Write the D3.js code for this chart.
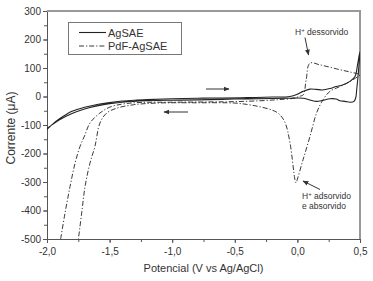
<!DOCTYPE html>
<html>
<head>
<meta charset="utf-8">
<script src="https://cdn.jsdelivr.net/npm/d3@7"></script>
<style>
  body { margin: 0; background: #fff; }
  svg { display: block; font-family: "Liberation Sans", Arial, sans-serif; }
  .axis text { font-size: 10px; fill: #333; }
  .axis path, .axis line { stroke: #555; }
  .axis-title { font-size: 11px; fill: #333; }
  .legend-text { font-size: 11px; fill: #333; }
  .note { font-size: 8.5px; fill: #333; }
</style>
</head>
<body>
<svg id="chart"></svg>
<script>
// AgSAE: sweep from -2.0 V up to 0.5 V and back
const agsaeV = [-2.0, -1.95, -1.9, -1.85, -1.8, -1.7, -1.6, -1.5, -1.4, -1.3, -1.2, -1.0, -0.8, -0.6, -0.4, -0.2, -0.06,
  0.0, 0.045, 0.1, 0.15, 0.2, 0.26, 0.31, 0.36, 0.42, 0.46, 0.48, 0.49, 0.5,
  0.49, 0.475, 0.465, 0.45, 0.42, 0.38, 0.34, 0.31, 0.26, 0.2, 0.154, 0.1, 0.045, -0.06, -0.2, -0.5, -0.8, -1.0,
  -1.2, -1.4, -1.5, -1.6, -1.7, -1.8, -1.9, -2.0];
const agsaeI = [-115, -95, -78, -64, -52, -38, -28, -21, -16, -13, -11, -8, -6, -5, -4, -2, 0,
  8, 18, 26, 25, 23, 28, 35, 40, 53, 70, 110, 136, 158,
  100, 30, -6, -18, -20, -17, -15, -9, -8, -14, -17, -12, -6, -6, -7, -9, -12, -13,
  -15, -20, -25, -33, -44, -60, -82, -112];

// PdF-AgSAE: forward branch, H+ desorption peak, reverse branch with adsorption peak
const pdfV = [-1.891, -1.856, -1.816, -1.776, -1.736, -1.697, -1.657, -1.577, -1.497, -1.39, -1.257, -1.0, -0.7, -0.5,
  -0.3, -0.15, -0.03, 0.02, 0.047, 0.07, 0.1, 0.18, 0.34, 0.42, 0.5,
  0.484, 0.42, 0.34, 0.26, 0.204, 0.154, 0.1, 0.045, -0.006, -0.011, -0.019, -0.059, -0.1, -0.15, -0.2, -0.3, -0.4,
  -0.5, -0.8, -1.124, -1.31, -1.443, -1.523, -1.577, -1.617, -1.657, -1.696, -1.723, -1.75];
const pdfI = [-500, -409, -316, -234, -175, -135, -93, -58, -37, -26, -21, -20, -19, -18,
  -15, -11, -6, 1, 6, 58, 117, 111, 94, 86, 76,
  70, 53, 35, 18, -12, -57, -141, -222, -298, -303, -293, -163, -90, -60, -48, -36, -28,
  -23, -22, -23, -29, -41, -58, -93, -175, -234, -316, -409, -503];

const xTicks = [-2.0, -1.5, -1.0, -0.5, 0.0, 0.5];
const yTicks = [300, 200, 100, 0, -100, -200, -300, -400, -500];

const config = {
  width: 373,
  height: 281,
  plot: { left: 47, right: 360, top: 11, bottom: 239 }
};

const svg = d3.select('#chart')
  .attr('width', config.width)
  .attr('height', config.height);

const xScale = d3.scaleLinear().domain([-2, 0.5]).range([config.plot.left, config.plot.right]);
const yScale = d3.scaleLinear().domain([-500, 300]).range([config.plot.bottom, config.plot.top]);

const comma = d => d3.format('.1f')(d).replace('.', ',').replace('\u2212', '-');

// minor ticks first, then the labelled ones
svg.append('g')
  .attr('class', 'axis')
  .attr('transform', `translate(0,${config.plot.bottom})`)
  .call(d3.axisBottom(xScale).tickValues(d3.range(-2, 0.51, 0.25)).tickSize(3).tickFormat(''));
svg.append('g')
  .attr('class', 'axis')
  .attr('transform', `translate(${config.plot.left},0)`)
  .call(d3.axisLeft(yScale).tickValues(d3.range(-500, 301, 50)).tickSize(3).tickFormat(''));

svg.append('g')
  .attr('class', 'axis')
  .attr('transform', `translate(0,${config.plot.bottom})`)
  .call(d3.axisBottom(xScale).tickValues(xTicks).tickSize(4).tickPadding(5).tickFormat(comma));
svg.append('g')
  .attr('class', 'axis')
  .attr('transform', `translate(${config.plot.left},0)`)
  .call(d3.axisLeft(yScale).tickValues(yTicks).tickSize(4).tickPadding(2).tickFormat(d => String(d)));

// top and right frame
svg.append('path')
  .attr('d', `M${config.plot.left},${config.plot.top}H${config.plot.right}V${config.plot.bottom}`)
  .attr('fill', 'none')
  .attr('stroke', '#999')
  .attr('stroke-width', 2);

svg.append('clipPath').attr('id', 'clip')
  .append('rect')
  .attr('x', config.plot.left).attr('y', config.plot.top)
  .attr('width', config.plot.right - config.plot.left)
  .attr('height', config.plot.bottom - config.plot.top);

const lineFree = d3.line().x(d => xScale(d[0])).y(d => yScale(d[1])).curve(d3.curveCatmullRom.alpha(0.5));

svg.append('path')
  .datum(agsaeV.map((v, i) => [v, agsaeI[i]]))
  .attr('clip-path', 'url(#clip)')
  .attr('d', lineFree)
  .attr('fill', 'none')
  .attr('stroke', '#222')
  .attr('stroke-width', 1.1);

svg.append('path')
  .datum(pdfV.map((v, i) => [v, pdfI[i]]))
  .attr('clip-path', 'url(#clip)')
  .attr('d', lineFree)
  .attr('fill', 'none')
  .attr('stroke', '#222')
  .attr('stroke-width', 0.9)
  .attr('stroke-dasharray', '5,2,1.2,2');

// legend
const legend = svg.append('g');
legend.append('rect')
  .attr('x', 68.5).attr('y', 22.5).attr('width', 113).attr('height', 32)
  .attr('fill', '#fff').attr('stroke', '#777').attr('stroke-width', 1);
legend.append('line').attr('x1', 79).attr('x2', 106).attr('y1', 32.5).attr('y2', 32.5)
  .attr('stroke', '#222').attr('stroke-width', 1.1);
legend.append('line').attr('x1', 79).attr('x2', 106).attr('y1', 46).attr('y2', 46)
  .attr('stroke', '#222').attr('stroke-width', 0.9).attr('stroke-dasharray', '5,2,1.2,2');
legend.append('text').attr('class', 'legend-text').attr('x', 108).attr('y', 36.5).text('AgSAE');
legend.append('text').attr('class', 'legend-text').attr('x', 108).attr('y', 50).text('PdF-AgSAE');

// axis titles
svg.append('text')
  .attr('class', 'axis-title')
  .attr('x', 203.5).attr('y', 272)
  .attr('text-anchor', 'middle')
  .text('Potencial (V vs Ag/AgCl)');
svg.append('text')
  .attr('class', 'axis-title')
  .attr('transform', 'translate(15,128) rotate(-90)')
  .attr('text-anchor', 'middle')
  .style('font-size', '12px')
  .text('Corrente (\u03bcA)');

// sweep direction arrows and notes
svg.append('defs').append('marker')
  .attr('id', 'head')
  .attr('viewBox', '0 0 10 10')
  .attr('refX', 9).attr('refY', 5)
  .attr('markerWidth', 6).attr('markerHeight', 6)
  .attr('markerUnits', 'userSpaceOnUse')
  .attr('orient', 'auto')
  .append('path').attr('d', 'M0,1L10,5L0,9Z').attr('fill', '#333');

const arrow = (x1, y1, x2, y2) => svg.append('line')
  .attr('x1', x1).attr('y1', y1).attr('x2', x2).attr('y2', y2)
  .attr('stroke', '#333').attr('stroke-width', 1)
  .attr('marker-end', 'url(#head)');

arrow(206, 89, 229, 89);
arrow(188, 112, 164, 112);
arrow(305, 37.5, 308.5, 55);
arrow(320, 189.5, 303, 181);

const hDes = svg.append('text').attr('class', 'note').attr('x', 295).attr('y', 35);
hDes.append('tspan').text('H');
hDes.append('tspan').attr('dy', -3).attr('font-size', '6px').text('+');
hDes.append('tspan').attr('dy', 3).text(' dessorvido');

const hAds = svg.append('text').attr('class', 'note').attr('x', 302).attr('y', 198.5);
hAds.append('tspan').text('H');
hAds.append('tspan').attr('dy', -3).attr('font-size', '6px').text('+');
hAds.append('tspan').attr('dy', 3).text(' adsorvido');
svg.append('text').attr('class', 'note').attr('x', 302).attr('y', 208.5).text('e absorvido');
</script>
</body>
</html>
